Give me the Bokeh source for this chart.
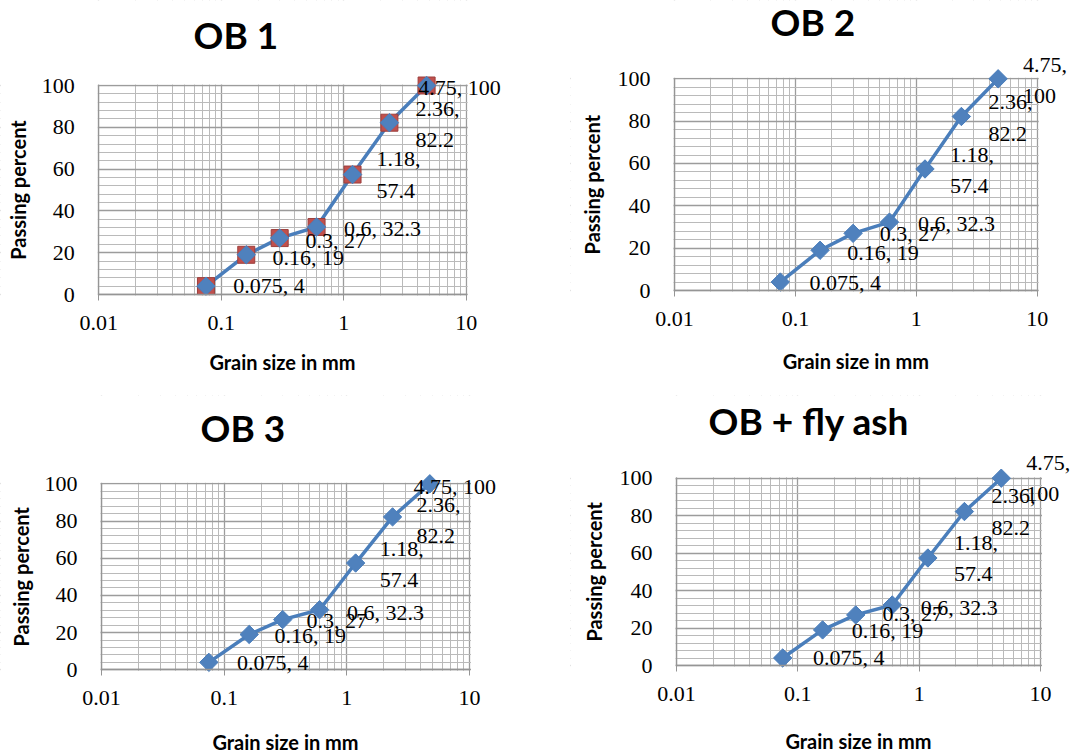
import math
from bokeh.plotting import figure
from bokeh.models import (ColumnDataSource, LabelSet, Label, Range1d, FixedTicker,
                          SingleIntervalTicker, CustomJSTickFormatter, BoxAnnotation)
from bokeh.layouts import row, column
from bokeh.embed import file_html
from bokeh.resources import INLINE

# ---------------- data ----------------
grain_size_mm = [0.075, 0.16, 0.3, 0.6, 1.18, 2.36, 4.75]
ob1_passing = [4, 19, 27, 32.3, 57.4, 82.2, 100]
ob2_passing = [4, 19, 27, 32.3, 57.4, 82.2, 100]
ob3_passing = [4, 19, 27, 32.3, 57.4, 82.2, 100]
ob_flyash_passing = [4, 19, 27, 32.3, 57.4, 82.2, 100]
panel_titles = ["OB 1", "OB 2", "OB 3", "OB + fly ash"]
x_tick_values = [0.01, 0.1, 1, 10]
x_minor_tick_values = [0.02, 0.03, 0.04, 0.05, 0.06, 0.07, 0.08, 0.09,
                       0.2, 0.3, 0.4, 0.5, 0.6, 0.7, 0.8, 0.9,
                       2, 3, 4, 5, 6, 7, 8, 9]
x_axis_title = "Grain size in mm"
y_axis_title = "Passing percent"

# ---------------- style / layout ----------------
LINE_COLOR = "#4a7ebb"
MARK_COLOR = "#4f81bd"
GRID_MAJOR = "#9c9c9c"
GRID_MINOR = "#bababa"
AXIS_COLOR = "#959595"

# geometry in local figure pixels: plot box (0.01..10 x 0..100) and text centres
panels = [
    dict(w=570, h=395, left=98.3, right=465.7, top=85, bottom=294,
         title_x=193, title_cy=33.5, xlab_cy=361.5, ylab_cx=17.5),
    dict(w=508, h=395, left=104, right=466.7, top=78.3, bottom=290,
         title_x=200, title_cy=21, xlab_cy=360, ylab_cx=21.5),
    dict(w=570, h=360, left=101, right=469, top=88.3, bottom=274.3,
         title_x=200, title_cy=31.5, xlab_cy=346.5, ylab_cx=20.5),
    dict(w=508, h=360, left=106, right=470, top=82.7, bottom=270,
         title_x=138, title_cy=24.5, xlab_cy=345, ylab_cx=23),
]
# data-label offsets (dx, dy) in screen px relative to the point, text centred
label_offsets = [
    [(63, 0.5), (62, -2.4), (56, -2.4), (66, -1.5), (46, 0), (48, -1), (33, -2)],
    [(65, 0), (63, -2), (57, 0), (67, -1.5), (47, -1), (49, -1), (47, -1)],
    [(64, 0), (61, -1.5), (54, -1), (66, -3), (46, -1), (46, -3), (25, -3)],
    [(66, 1), (65, -1), (57, 1), (67, -2), (48, 0), (49, 0), (47, 0)],
]
label_wraps = [
    [False, False, False, False, True, True, False],
    [False, False, False, False, True, True, True],
    [False, False, False, False, True, True, False],
    [False, False, False, False, True, True, True],
]
series = [ob1_passing, ob2_passing, ob3_passing, ob_flyash_passing]


def label_text(x, y, wrap):
    return f"{x:g},{chr(10) if wrap else ' '}{y:g}"


def make_panel(i):
    g = panels[i]
    ys = series[i]
    fw = g["right"] - g["left"]
    fh = g["bottom"] - g["top"]

    def xd(px):
        return 10 ** (-2 + 3.0 * (px - g["left"]) / fw)

    def yd(py):
        return 100.0 * (g["bottom"] - py) / fh

    p = figure(width=g["w"], height=g["h"], x_axis_type="log", title=None,
               x_range=Range1d(xd(0), xd(g["w"])), y_range=Range1d(yd(g["h"]), yd(0)),
               output_backend="svg", toolbar_location=None,
               min_border=0, min_border_left=0, min_border_right=0,
               min_border_top=0, min_border_bottom=0)
    p.outline_line_color = None
    p.background_fill_color = "white"
    p.border_fill_color = "white"

    # axes drawn inside the canvas-filling frame
    p.xaxis.fixed_location = 0
    p.yaxis.fixed_location = 0.01
    p.xaxis.ticker = FixedTicker(ticks=x_tick_values, minor_ticks=x_minor_tick_values)
    p.xaxis.formatter = CustomJSTickFormatter(code="return String(tick);")
    p.xaxis.bounds = (0.01, 10)
    p.yaxis.ticker = SingleIntervalTicker(interval=20, num_minor_ticks=5)
    p.yaxis.bounds = (0, 100)
    for ax in (p.xaxis, p.yaxis):
        ax.axis_line_color = AXIS_COLOR
        ax.axis_line_width = 1.3
        ax.major_tick_line_color = AXIS_COLOR
        ax.minor_tick_line_color = None
        ax.major_label_text_font = "Liberation Serif"
        ax.major_label_text_font_size = "22px"
        ax.major_label_text_color = "black"
    p.xaxis.major_tick_in = 0
    p.xaxis.major_tick_out = 6
    p.xaxis.major_label_standoff = 15
    p.yaxis.major_tick_in = 0
    p.yaxis.major_tick_out = 0
    p.yaxis.major_label_standoff = 20

    # grids
    for gr in (p.xgrid, p.ygrid):
        gr.grid_line_color = GRID_MAJOR
        gr.grid_line_width = 1.3
        gr.minor_grid_line_color = GRID_MINOR
        gr.minor_grid_line_width = 1
    p.xgrid.ticker = p.xaxis.ticker
    p.ygrid.ticker = p.yaxis.ticker

    # white masks: keep the grid inside the 0.01-10 x 0-100 box
    for kw in (dict(bottom=yd(g["top"] - 1)), dict(top=yd(g["bottom"] + 1)),
               dict(right=xd(g["left"] - 1)), dict(left=xd(g["right"] + 1.5))):
        p.add_layout(BoxAnnotation(fill_color="white", fill_alpha=1.0, line_color=None,
                                   level="underlay", **kw))

    # titles and axis titles
    p.add_layout(Label(x=xd(g["title_x"]), y=yd(g["title_cy"]), text=panel_titles[i],
                       text_font="Lato", text_font_size="37px", text_font_style="bold",
                       text_color="black", text_align="left", text_baseline="middle"))
    p.add_layout(Label(x=xd((g["left"] + g["right"]) / 2.0), y=yd(g["xlab_cy"]),
                       text=x_axis_title, text_font="Lato", text_font_size="20px",
                       text_font_style="bold", text_color="black",
                       text_align="center", text_baseline="middle"))
    p.add_layout(Label(x=xd(g["ylab_cx"]), y=yd((g["top"] + g["bottom"]) / 2.0),
                       text=y_axis_title, angle=math.pi / 2, text_font="Lato",
                       text_font_size="20px", text_font_style="bold", text_color="black",
                       text_align="center", text_baseline="middle"))

    src = ColumnDataSource(dict(
        x=grain_size_mm, y=ys,
        txt=[label_text(x, y, w) for x, y, w in zip(grain_size_mm, ys, label_wraps[i])],
        dx=[o[0] for o in label_offsets[i]],
        dy=[o[1] for o in label_offsets[i]],
    ))
    p.line("x", "y", source=src, line_color=LINE_COLOR, line_width=3.5)
    if i == 0:
        p.scatter("x", "y", source=src, marker="square", size=17,
                  fill_color="#c0504d", line_color="#9c3f3c", line_width=1)
    p.scatter("x", "y", source=src, marker="square", angle=math.pi / 4, size=13,
              fill_color=MARK_COLOR, line_color=LINE_COLOR, line_width=1)
    p.add_layout(LabelSet(x="x", y="y", text="txt", source=src,
                          x_offset="dx", y_offset="dy",
                          text_font="Liberation Serif", text_font_size="22px",
                          text_color="black", text_align="center",
                          text_baseline="middle", text_line_height=1.25))
    return p


figs = [make_panel(i) for i in range(4)]
layout = column(row(figs[0], figs[1]), row(figs[2], figs[3]))

open("out.html", "w").write(file_html(layout, INLINE))
